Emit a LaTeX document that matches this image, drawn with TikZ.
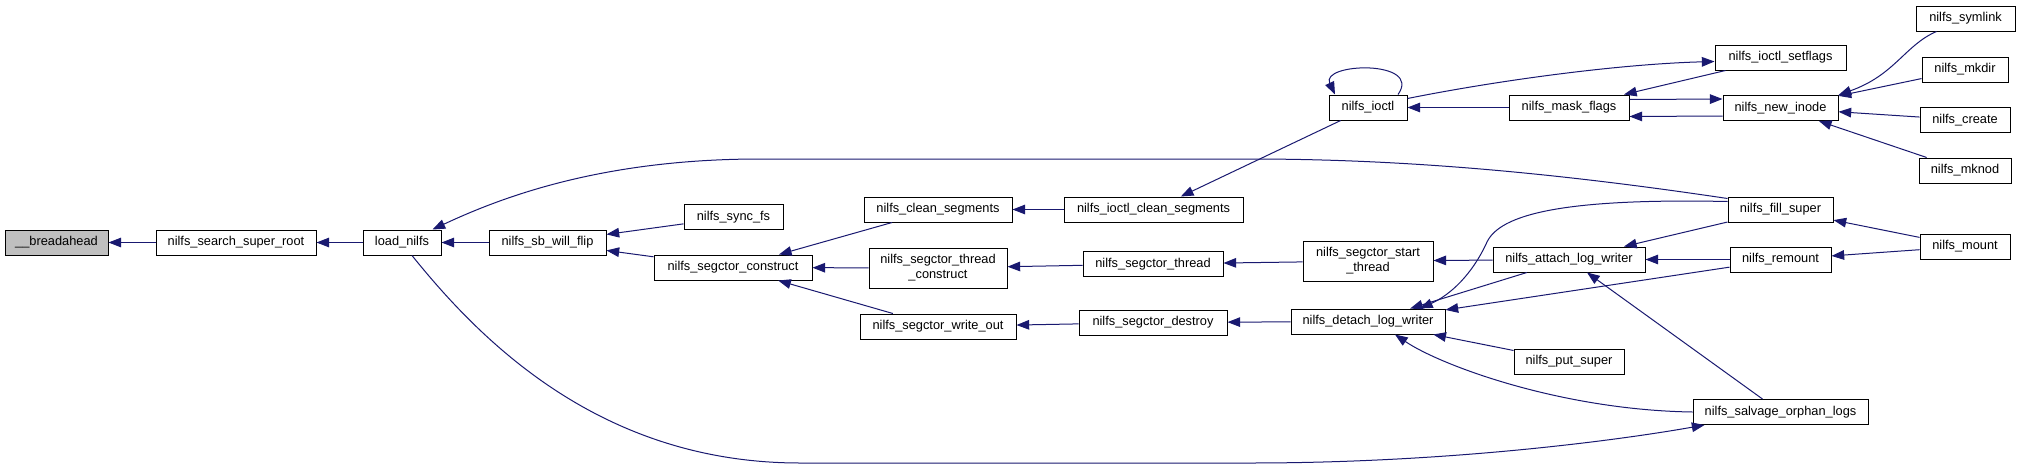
\documentclass[tikz,border=0pt]{standalone}
\usepackage{fontspec}
\setmainfont{Liberation Sans}
\usetikzlibrary{arrows.meta,calc}
\definecolor{edgeblue}{HTML}{191970}
\definecolor{curgray}{HTML}{BFBFBF}

\begin{document}
\begin{tikzpicture}[
    x=0.75pt, y=-0.75pt,
    fn/.style={rectangle, draw=black, line width=0.75pt, fill=white, inner xsep=2pt, inner ysep=1pt,
        minimum width=#1*0.75pt, minimum height=18.75pt, align=center,
        font=\fontsize{9.6}{11.25}\selectfont},
    fn2/.style={fn=#1, minimum height=30pt},
    cur/.style={fn=#1, fill=curgray},
    call/.style={draw=edgeblue, line width=0.75pt, -{Triangle[length=9.5pt,width=7.2pt]}}
]
    \path[use as bounding box, fill=white] (0,0) rectangle (2020,468);

    \node[cur=103] (bread) at (56.5,242.5) {\_\_breadahead};
    \node[fn=160] (nssr) at (236,242.5) {nilfs\_search\_super\_root};
    \node[fn=78] (loadn) at (402,242.5) {load\_nilfs};
    \node[fn=117] (sbflip) at (547.5,242.5) {nilfs\_sb\_will\_flip};
    \node[fn=99] (syncfs) at (733.5,217) {nilfs\_sync\_fs};
    \node[fn=158] (construct) at (733,267.5) {nilfs\_segctor\_construct};
    \node[fn=148] (cleanseg) at (938,209.5) {nilfs\_clean\_segments};
    \node[fn2=138] (threadcons) at (938,268) {nilfs\_segctor\_thread\\\_construct};
    \node[fn=156] (writeout) at (938,326.5) {nilfs\_segctor\_write\_out};
    \node[fn=179] (ioctlclean) at (1153.5,209.5) {nilfs\_ioctl\_clean\_segments};
    \node[fn=140] (segthread) at (1153,264) {nilfs\_segctor\_thread};
    \node[fn=148] (destroy) at (1153,322.5) {nilfs\_segctor\_destroy};
    \node[fn=78] (ioctl) at (1368,107.5) {nilfs\_ioctl};
    \node[fn2=130] (startthread) at (1368,261) {nilfs\_segctor\_start\\\_thread};
    \node[fn=154] (detach) at (1368,321.5) {nilfs\_detach\_log\_writer};
    \node[fn=120] (maskflags) at (1569,107.5) {nilfs\_mask\_flags};
    \node[fn=152] (attach) at (1569,259.5) {nilfs\_attach\_log\_writer};
    \node[fn=110] (putsuper) at (1569,361.5) {nilfs\_put\_super};
    \node[fn=131] (setflags) at (1780.5,57.5) {nilfs\_ioctl\_setflags};
    \node[fn=115] (newinode) at (1780.5,108) {nilfs\_new\_inode};
    \node[fn=105] (fillsuper) at (1780.5,209.5) {nilfs\_fill\_super};
    \node[fn=101] (remount) at (1780.5,259.5) {nilfs\_remount};
    \node[fn=175] (salvage) at (1780.5,412) {nilfs\_salvage\_orphan\_logs};
    \node[fn=99] (symlink) at (1965.5,18.5) {nilfs\_symlink};
    \node[fn=86] (mkdir) at (1965,69.5) {nilfs\_mkdir};
    \node[fn=90] (create) at (1965,120) {nilfs\_create};
    \node[fn=92] (mknod) at (1965,170.5) {nilfs\_mknod};
    \node[fn=90] (mount) at (1965,246.5) {nilfs\_mount};

    \draw[call] (nssr) -- (bread); \draw[call] (loadn) -- (nssr); \draw[call] (sbflip) -- (loadn);
    \draw[call] (syncfs) -- (sbflip); \draw[call] (construct) -- (sbflip);
    \draw[call] (cleanseg) -- (construct); \draw[call] (threadcons) -- (construct); \draw[call] (writeout) -- (construct);
    \draw[call] (ioctlclean) -- (cleanseg); \draw[call] (segthread) -- (threadcons); \draw[call] (destroy) -- (writeout);
    \draw[call] (startthread) -- (segthread); \draw[call] (detach) -- (destroy);
    \draw[call] (attach) -- (startthread); \draw[call] (attach) -- (detach); \draw[call] (putsuper) -- (detach);
    \draw[call] (remount) -- (attach); \draw[call] (remount) -- (detach);
    \draw[call] (fillsuper) -- (attach); \draw[call] (salvage) -- (attach);
    \draw[call] (mount) -- (fillsuper); \draw[call] (mount) -- (remount);
    \draw[call] (ioctl) -- (ioctlclean); \draw[call] (maskflags) -- (ioctl); \draw[call] (setflags) -- (maskflags);
    \draw[call] (mkdir) -- (newinode); \draw[call] (create) -- (newinode); \draw[call] (mknod) -- (newinode);

    \draw[call] ($(maskflags.east)+(0,-8)$) -- ($(newinode.west)+(0,-9)$);
    \draw[call] ($(newinode.west)+(0,8)$) -- ($(maskflags.east)+(0,9)$);
    \draw[call] ($(ioctl.north)+(30,0)$) .. controls +(25,-35) and +(-15,-32) .. ($(ioctl.north)+(-33,0)$);
    \draw[call] ($(ioctl.east)+(0,-9)$) .. controls (1500,80) and (1620,64) .. ($(setflags.west)+(0,4)$);
    \draw[call] ($(symlink.south west)+(21,0)$) .. controls (1905,45) and (1895,75) .. (newinode.north east);
    \draw[call] ($(fillsuper.west)+(0,-11)$) .. controls (1550,172) and (1400,159) .. (1250,159) -- (760,159)
        .. controls (600,159) and (500,198) .. ($(loadn.north east)+(-9,0)$);
    \draw[call] ($(fillsuper.west)+(0,-8)$) .. controls (1560,198) and (1500,215) .. (1487,242)
        .. controls (1472,275) and (1450,295) .. ($(detach.north)+(52,0)$);
    \draw[call] ($(loadn.south)+(10,0)$) .. controls (480,340) and (600,463) .. (800,463) -- (1250,463)
        .. controls (1450,463) and (1620,440) .. ($(salvage.south west)+(12,0)$);
    \draw[call] (salvage.west) .. controls (1560,410) and (1440,365) .. ($(detach.south)+(27,0)$);
\end{tikzpicture}
\end{document}
